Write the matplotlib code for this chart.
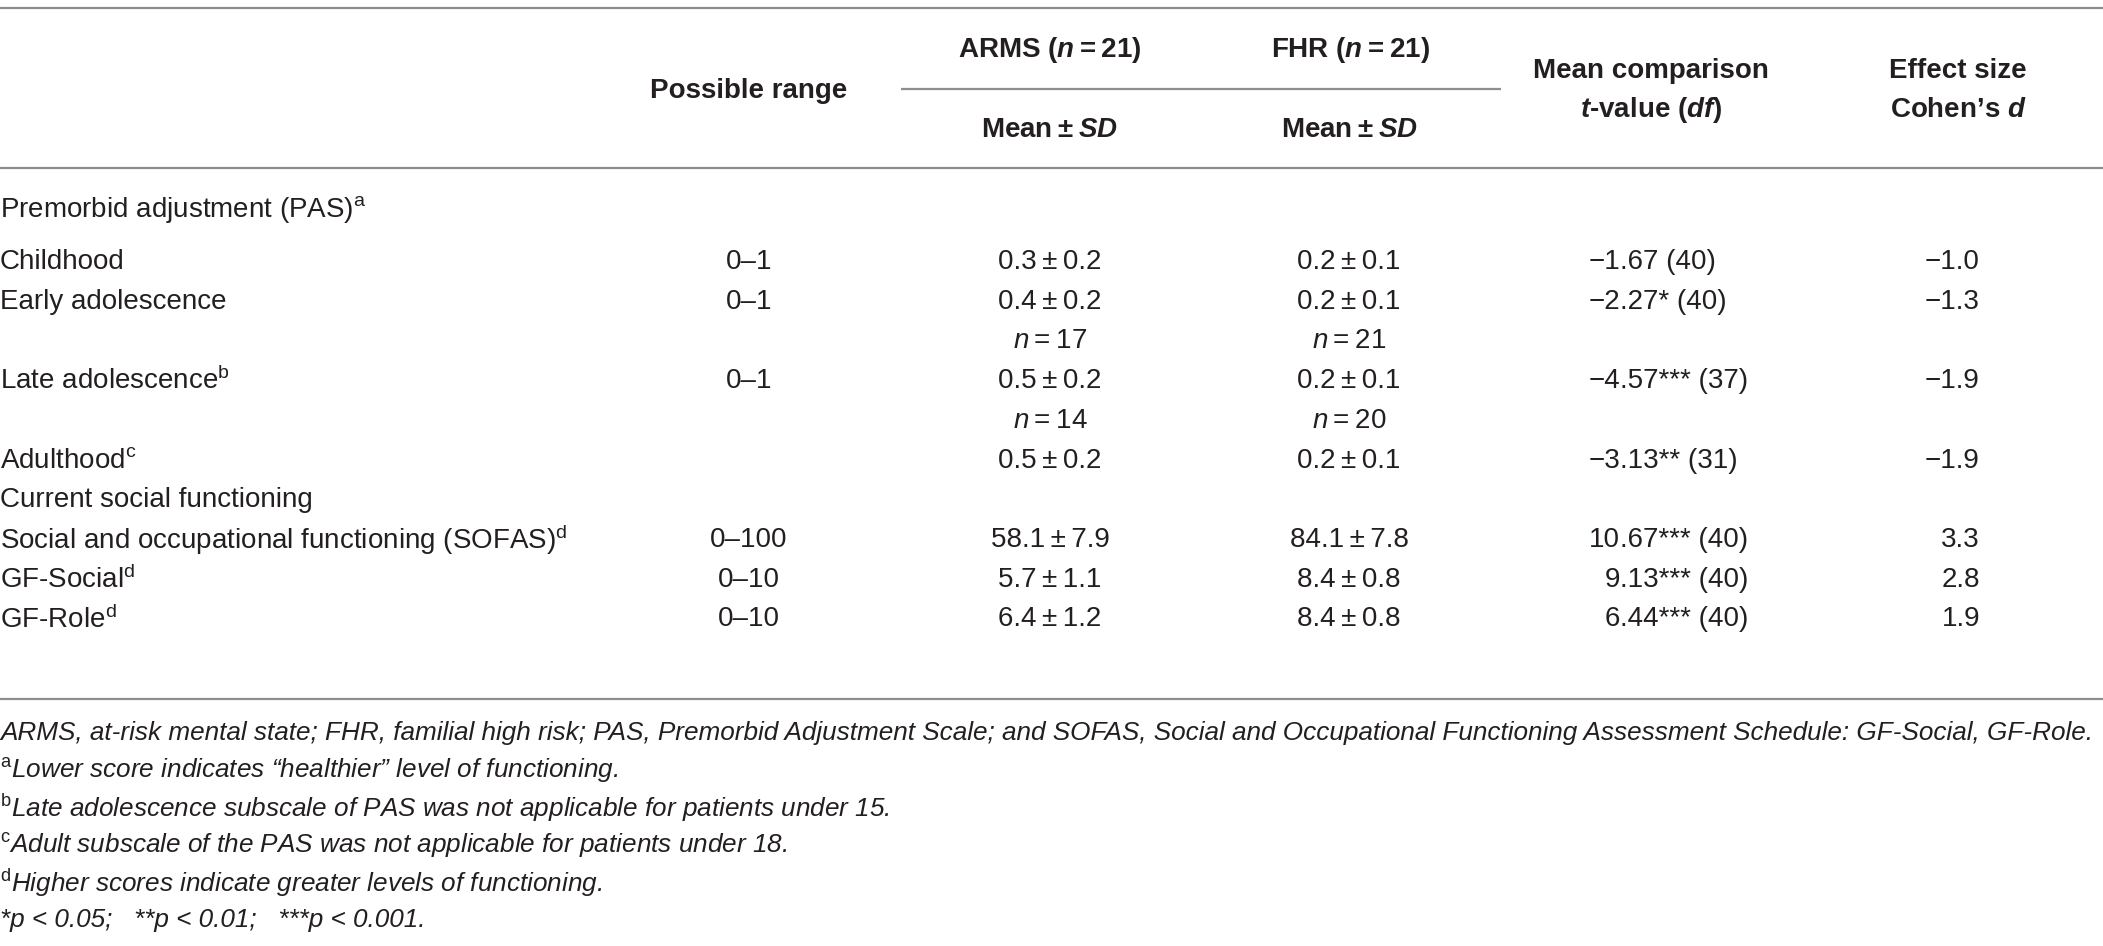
import matplotlib
matplotlib.use("Agg")
import matplotlib.pyplot as plt

# Table content
row_labels = ["Premorbid adjustment (PAS)", "Childhood", "Early adolescence", "",
              "Late adolescence", "", "Adulthood", "Current social functioning",
              "Social and occupational functioning (SOFAS)", "GF-Social", "GF-Role"]
label_sups = ["a", "", "", "", "b", "", "c", "", "d", "d", "d"]
possible_range = ["", "0–1", "0–1", "", "0–1", "", "", "", "0–100", "0–10", "0–10"]
arms_vals = ["", "0.3 ± 0.2", "0.4 ± 0.2", "n = 17", "0.5 ± 0.2", "n = 14", "0.5 ± 0.2",
             "", "58.1 ± 7.9", "5.7 ± 1.1", "6.4 ± 1.2"]
fhr_vals = ["", "0.2 ± 0.1", "0.2 ± 0.1", "n = 21", "0.2 ± 0.1", "n = 20", "0.2 ± 0.1",
            "", "84.1 ± 7.8", "8.4 ± 0.8", "8.4 ± 0.8"]
t_values = ["", "−1.67 (40)", "−2.27* (40)", "", "−4.57*** (37)", "", "−3.13** (31)",
            "", "10.67*** (40)", "9.13*** (40)", "6.44*** (40)"]
cohens_d = ["", "−1.0", "−1.3", "", "−1.9", "", "−1.9", "", "3.3", "2.8", "1.9"]

footnotes = [
    "ARMS, at-risk mental state; FHR, familial high risk; PAS, Premorbid Adjustment Scale; "
    "and SOFAS, Social and Occupational Functioning Assessment Schedule: GF-Social, GF-Role.",
    "$^{\\mathrm{a}}$Lower score indicates “healthier” level of functioning.",
    "$^{\\mathrm{b}}$Late adolescence subscale of PAS was not applicable for patients under 15.",
    "$^{\\mathrm{c}}$Adult subscale of the PAS was not applicable for patients under 18.",
    "$^{\\mathrm{d}}$Higher scores indicate greater levels of functioning.",
    "*p < 0.05;   **p < 0.01;   ***p < 0.001.",
]

plt.rcParams['font.family'] = ['Liberation Sans', 'DejaVu Sans']
plt.rcParams['mathtext.fontset'] = 'custom'
plt.rcParams['mathtext.rm'] = 'Liberation Sans'
plt.rcParams['mathtext.it'] = 'Liberation Sans:italic'
plt.rcParams['mathtext.bf'] = 'Liberation Sans:bold'
plt.rcParams['mathtext.bfit'] = 'Liberation Sans:italic:bold'

TXT = "#231f20"
RULE = "#8e8e8e"
FS = 20
FS_NOTE = 18.8

W, H = 2103, 946
fig = plt.figure(figsize=(W / 100, H / 100), dpi=100)
ax = fig.add_axes([0, 0, 1, 1])
ax.set_xlim(0, W)
ax.set_ylim(H, 0)
ax.axis("off")

# rules
ax.hlines([8, 168], 0, W, color=RULE, lw=1.6)
ax.hlines(89, 901, 1501, color=RULE, lw=1.6)
ax.hlines(699, 0, W, color=RULE, lw=1.6)

# header
hdr = dict(fontsize=FS, fontweight="bold", color=TXT, ha="center", va="center")
ax.text(749, 91, "Possible range", **hdr)
ax.text(1050, 50, "ARMS ($\\mathbfit{n}$\u2009=\u200921)", **hdr)
ax.text(1350, 50, "FHR ($\\mathbfit{n}$\u2009=\u200921)", **hdr)
ax.text(1050, 130, "Mean\u2009±\u2009$\\mathbfit{SD}$", **hdr)
ax.text(1350, 130, "Mean\u2009±\u2009$\\mathbfit{SD}$", **hdr)
ax.text(1651, 71, "Mean comparison", **hdr)
ax.text(1651, 110, "$\\mathbfit{t}$-value ($\\mathbfit{df}$)", **hdr)
ax.text(1958, 71, "Effect size", **hdr)
ax.text(1958, 110, "Cohen’s $\\mathbfit{d}$", **hdr)

# body rows
row_y = [209] + [262 + 39.7 * (i - 1) for i in range(1, len(row_labels))]
body = dict(fontsize=FS, color=TXT, va="center")
dec_x = 1620
for i, y in enumerate(row_y):
    lab = row_labels[i]
    if label_sups[i]:
        lab = lab + "$^{\\mathrm{" + label_sups[i] + "}}$"
    if lab:
        ax.text(0, y, lab, ha="left", **body)
    if possible_range[i]:
        ax.text(749, y, possible_range[i], ha="center", **body)
    for cx, vals in ((1050, arms_vals), (1349, fhr_vals)):
        v = vals[i]
        if not v:
            continue
        if v.startswith("n"):
            v = "$\\mathit{n}$\u2009=\u2009" + v.split("=")[1].strip()
        else:
            v = v.replace(" ± ", "\u2009±\u2009")
        ax.text(cx, y, v, ha="center", **body)
    if t_values[i]:
        ip, rest = t_values[i].split(".", 1)
        ax.text(dec_x, y, ip, ha="right", **body)
        ax.text(dec_x, y, "." + rest, ha="left", **body)
    if cohens_d[i]:
        ax.text(1980, y, cohens_d[i], ha="right", **body)

# footnotes
for j, note in enumerate(footnotes):
    ax.text(0, 733 + 37.4 * j, note, ha="left", va="center", fontsize=FS_NOTE,
            fontstyle="italic", color=TXT)

fig.savefig("out.png", dpi=100)
